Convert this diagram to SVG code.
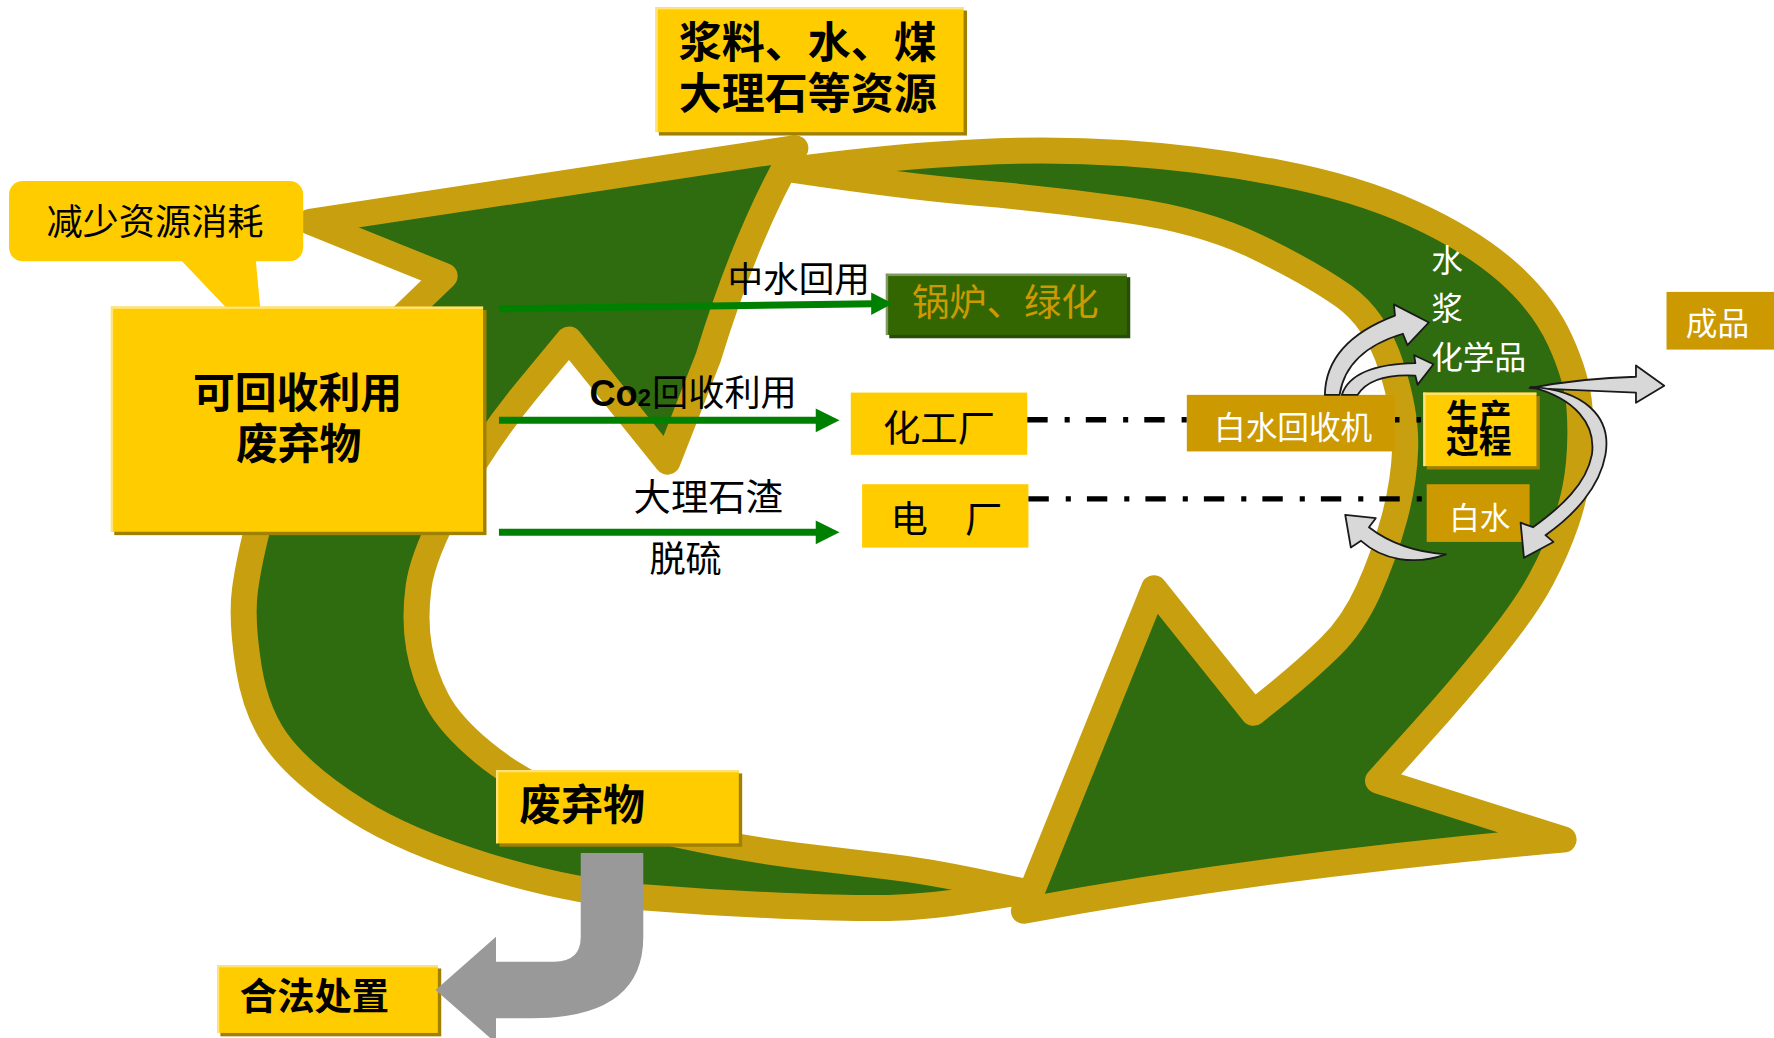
<svg xmlns="http://www.w3.org/2000/svg" width="1774" height="1038" viewBox="0 0 1774 1038">
<defs>
<style>
.band{fill:#2F6B0F;stroke:#C8A00F;stroke-width:23;stroke-linejoin:round;stroke-linecap:round}
.ybox{fill:#FFCC00}
.gbox{fill:#CC9900}
.shd{fill:#A08000}
.hl{fill:#FFE37A}
.t{font-family:"Noto Sans CJK SC","Noto Sans CJK JP",sans-serif;fill:#000}
.b{font-weight:700}
.w{fill:#FFFFFF}
.gline{stroke:#008000;stroke-width:6.2;fill:none}
.ghead{fill:#008000}
.dd{stroke:#000;stroke-width:4.7;fill:none;stroke-dasharray:18 15 4.5 14.2}
.warr{fill:#D8D8D8;stroke:#1A1A1A;stroke-width:1.6;stroke-linejoin:round}
</style>
</defs>
<rect width="1774" height="1038" fill="#FFFFFF"/>
<g transform="scale(1.13138)">
<g id="cycle-arrow-left">
<path class="band" d="M 905,788 L 862,795 Q 820,802 785.5,802.5 Q 751,803 690.5,800.5 Q 630,798 567.5,793 Q 505,788 432,766 Q 359,744 315,716 Q 271,688 249,661 Q 227,634 220,591 Q 213,548 216.5,521.5 Q 220,495 230,457.5 Q 240,420 265,380 Q 290,340 329,305.5 L 393,244 L 274,196 L 703,131 Q 660,205 626,316 L 590,408 L 503,300 L 466.5,344 Q 430,388 402,438.5 Q 374,489 370,518.5 Q 366,548 370.5,573 Q 375,598 386.5,619.5 Q 398,641 427,665 Q 456,689 498,707 Q 540,725 597.5,737.5 Q 655,750 703,756 Q 751,762 785.5,766 Q 820,770 862,779 Z"/>
</g>
<g id="cycle-arrow-right">
<path class="band" d="M 700,150 Q 800,137 864,134.5 Q 928,131 995.5,135.5 Q 1063,140 1131,153 Q 1199,166 1249.5,189 Q 1300,212 1332,240 Q 1364,268 1379,301 Q 1394,334 1396,359.5 Q 1398,385 1395.5,410.5 Q 1393,436 1384.5,461 Q 1376,486 1362.5,511.5 Q 1349,537 1319.5,573.5 Q 1290,610 1254,650 L 1218,690 L 1382,742 Q 1120,765 905,805 L 1020,520 L 1108,630 L 1131.5,611 Q 1155,592 1175.5,572 Q 1196,552 1209.5,522 Q 1223,492 1232,459.5 Q 1241,427 1242,396 Q 1243,365 1229.5,323.5 Q 1216,282 1188,262 Q 1160,242 1111.5,218.5 Q 1063,195 995.5,185.5 Q 928,176 864,170.5 Q 800,165 700,150 Z"/>
</g>

<g id="node-resources">
<rect class="shd" x="582.4" y="9.3" width="272.3" height="110.5"/>
<rect class="ybox" x="579.4" y="6.3" width="272.3" height="110.5"/>
<rect class="hl" x="579.4" y="6.3" width="272.3" height="2"/>
<rect class="hl" x="579.4" y="6.3" width="2" height="110.5"/>
<text class="t b" x="714" y="51" font-size="38" text-anchor="middle">浆料、水、煤</text>
<text class="t b" x="714" y="96" font-size="38" text-anchor="middle">大理石等资源</text>
</g>

<g id="node-callout">
<rect class="ybox" x="8" y="160" width="260" height="71" rx="12" ry="12"/>
<polygon class="ybox" points="159,229 226,229 230,272 200,272"/>
<text class="t" x="137" y="208" font-size="32" text-anchor="middle">减少资源消耗</text>
</g>

<g id="node-recyclable">
<rect class="shd" x="101" y="274" width="329" height="199"/>
<rect class="ybox" x="98" y="271" width="329" height="199"/>
<rect class="hl" x="98" y="271" width="329" height="2"/>
<rect class="hl" x="98" y="271" width="2" height="199"/>
<text class="t b" x="263" y="361" font-size="37" text-anchor="middle">可回收利用</text>
<text class="t b" x="264" y="406" font-size="37" text-anchor="middle">废弃物</text>
</g>

<g id="node-boiler">
<rect x="786" y="245" width="213" height="54" fill="#264D0A"/>
<rect x="783" y="242" width="213" height="54" fill="#336600"/>
<rect x="783" y="242" width="213" height="2" fill="#7E9A62"/>
<rect x="783" y="242" width="2" height="54" fill="#7E9A62"/>
<text class="t" x="806" y="279" font-size="33" style="fill:#CC9900">锅炉、绿化</text>
</g>

<g id="node-chem">
<rect class="ybox" x="752" y="347" width="156" height="55"/>
<text class="t" x="830" y="391" font-size="33" text-anchor="middle">化工厂</text>
</g>

<g id="node-power">
<rect class="ybox" x="762" y="428" width="147" height="56"/>
<text class="t" x="787" y="471" font-size="33">电　厂</text>
</g>

<g id="node-whitewater-recovery">
<rect class="gbox" x="1049" y="349" width="184" height="50"/>
<text class="t w" x="1073" y="388" font-size="28">白水回收机</text>
</g>

<g id="node-production">
<rect class="shd" x="1261" y="350" width="100" height="65"/>
<rect class="ybox" x="1258" y="347" width="100" height="65"/>
<rect class="hl" x="1258" y="347" width="100" height="2"/>
<rect class="hl" x="1258" y="347" width="2" height="65"/>
<text class="t b" x="1307" y="378" font-size="29" text-anchor="middle">生产</text>
<text class="t b" x="1307" y="400" font-size="29" text-anchor="middle">过程</text>
</g>

<g id="node-whitewater">
<rect class="gbox" x="1261" y="428" width="91" height="51"/>
<text class="t w" x="1281" y="468" font-size="27">白水</text>
</g>

<g id="node-product">
<rect class="gbox" x="1473" y="258" width="95" height="51"/>
<text class="t w" x="1490" y="296" font-size="28">成品</text>
</g>

<g id="node-waste">
<rect class="shd" x="441.4" y="683.6" width="214.6" height="64.8"/>
<rect class="ybox" x="438.4" y="680.6" width="214.6" height="64.8"/>
<rect class="hl" x="438.4" y="680.6" width="214.6" height="2"/>
<rect class="hl" x="438.4" y="680.6" width="2" height="64.8"/>
<text class="t b" x="459" y="725" font-size="37">废弃物</text>
</g>

<g id="node-disposal">
<rect class="shd" x="194.8" y="856" width="195.2" height="60"/>
<rect class="ybox" x="191.8" y="853" width="195.2" height="60"/>
<rect class="hl" x="191.8" y="853" width="195.2" height="2"/>
<rect class="hl" x="191.8" y="853" width="2" height="60"/>
<text class="t b" x="212" y="893" font-size="33">合法处置</text>
</g>

<g id="labels">
<text class="t" x="706" y="258" font-size="31.5" text-anchor="middle">中水回用</text>
<text class="t" x="521" y="359" font-size="32"><tspan font-family="Liberation Sans, Arial, sans-serif" font-weight="700">Co</tspan><tspan font-family="Liberation Sans, Arial, sans-serif" font-weight="700" font-size="21">2</tspan><tspan dx="1">回收利用</tspan></text>
<text class="t" x="560" y="452" font-size="33">大理石渣</text>
<text class="t" x="574" y="506" font-size="32">脱硫</text>
<text class="t w" x="1265" y="240" font-size="28">水</text>
<text class="t w" x="1265" y="283" font-size="28">浆</text>
<text class="t w" x="1265" y="326" font-size="28">化学品</text>
</g>

<g id="connectors">
<path class="gline" d="M 441,273 L 772,268.5"/>
<polygon class="ghead" points="770,258.5 789,268.2 770,278.5"/>
<path class="gline" d="M 441,371.5 L 723,371.5"/>
<polygon class="ghead" points="721,361 742,371.5 721,382"/>
<path class="gline" d="M 441,470.5 L 723,470.5"/>
<polygon class="ghead" points="721,460 742,470.5 721,481"/>
<path class="dd" d="M 908,371 L 1049,371"/>
<path d="M 1233,371 L 1258,371" stroke="#000" stroke-width="4.7" stroke-dasharray="4 15" fill="none"/>
<path class="dd" d="M 909,441 L 1261,441"/>
<path class="warr" d="M 1171,349 Q 1172,302 1233,279 L 1232,269 L 1263,285 L 1244,305 L 1240,295 Q 1190,310 1184,349 Z"/>
<path class="warr" d="M 1186,349 Q 1195,322 1251,321 L 1250,314 L 1267,322 L 1253,340 L 1251,332 Q 1212,330 1200,349 Z"/>
<path class="warr" d="M 1352,343 Q 1400,334 1446,333 L 1446,323 L 1471,341 L 1446,356 L 1446,347 Q 1400,345 1352,343 Z"/>
<path class="warr" d="M 1353,342 C 1400,345 1425,368 1419,402 C 1414,430 1392,455 1366,473 L 1373,479 L 1347,493 L 1344,462 L 1355,466 C 1380,448 1402,428 1407,402 C 1411,375 1392,352 1353,342 Z"/>
<path class="warr" d="M 1278,490 C 1250,500 1222,495 1203,478 L 1194,484 L 1189,455 L 1216,458 L 1210,466 C 1228,480 1252,488 1278,490 Z"/>
<path d="M 513.3,754 L 568.6,754 L 568.6,828 Q 568.6,900 470,900 L 438.4,900 L 438.4,922 L 385,875 L 438.4,828 L 438.4,850 L 490,850 Q 513.3,850 513.3,828 Z" fill="#999999"/>
</g>
</g>
</svg>
